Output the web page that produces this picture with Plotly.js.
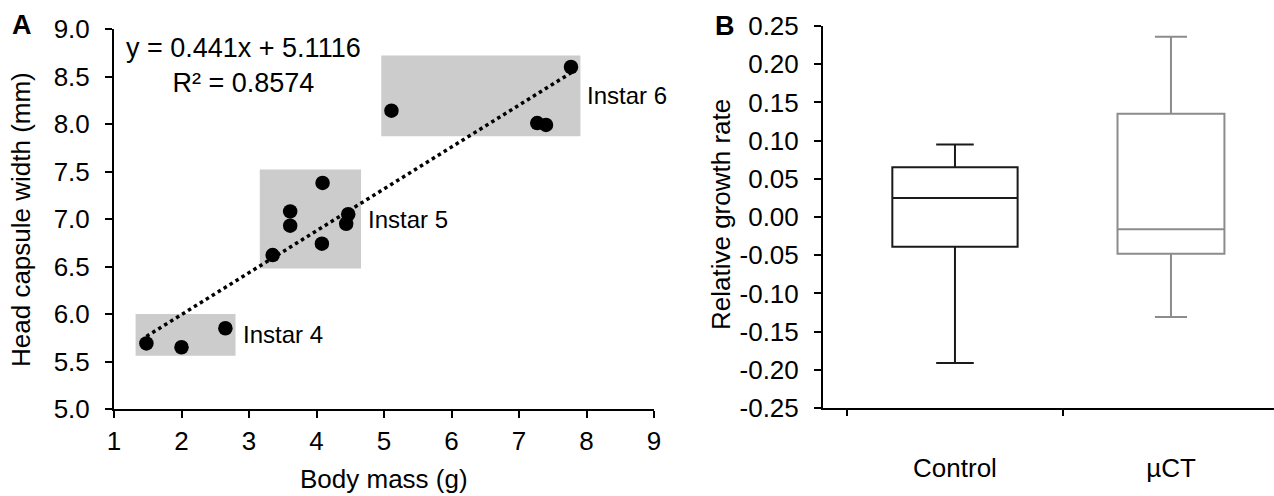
<!DOCTYPE html>
<html>
<head>
<meta charset="utf-8">
<script src="https://cdn.plot.ly/plotly-3.0.1.min.js"></script>
<style>html,body{margin:0;padding:0;background:#fff;}#chart{width:1274px;height:496px;}</style>
</head>
<body>
<div id="chart"></div>
<script>
// ---- Panel A data ----
const bodyMass = [1.48, 2.00, 2.65, 3.35, 3.61, 3.61, 4.08, 4.09, 4.44, 4.47, 5.11, 7.27, 7.40, 7.77];
const headWidth = [5.69, 5.65, 5.85, 6.62, 6.93, 7.08, 6.74, 7.38, 6.95, 7.05, 8.14, 8.01, 7.99, 8.60];
const fitSlope = 0.441;
const fitIntercept = 5.1116;
const fitR2 = 0.8574;
const instarNames = ["Instar 4", "Instar 5", "Instar 6"];
const instarXmin = [1.32, 3.16, 4.96];
const instarXmax = [2.80, 4.66, 7.91];
const instarYmin = [5.56, 6.48, 7.87];
const instarYmax = [6.00, 7.52, 8.72];
const xTicksA = [1, 2, 3, 4, 5, 6, 7, 8, 9];
const yTicksA = [5.0, 5.5, 6.0, 6.5, 7.0, 7.5, 8.0, 8.5, 9.0];

// ---- Panel B data ----
const groups = ["Control", "\u00b5CT"];
const lowerFence = [-0.191, -0.131];
const q1 = [-0.039, -0.048];
const median = [0.025, -0.016];
const q3 = [0.065, 0.135];
const upperFence = [0.095, 0.236];
const yTicksB = [-0.25, -0.20, -0.15, -0.10, -0.05, 0.00, 0.05, 0.10, 0.15, 0.20, 0.25];

const FONT = 'Arial, "Liberation Sans", Helvetica, sans-serif';
const W = 1274, H = 496;
const px = v => v / W;
const py = v => 1 - v / H;

const xFit = [Math.min(...bodyMass), Math.max(...bodyMass)];
const yFit = xFit.map(x => fitSlope * x + fitIntercept);

const boxColors = ["#1a1a1a", "#8c8c8c"];
const boxWidths = [0.58, 0.495];

const traces = [
  {type: 'scatter', mode: 'lines', x: xFit, y: yFit, xaxis: 'x', yaxis: 'y',
   line: {color: '#000', width: 3.5, dash: '3.5px,3.5px'}, hoverinfo: 'skip', showlegend: false},
  {type: 'scatter', mode: 'markers', x: bodyMass, y: headWidth, xaxis: 'x', yaxis: 'y',
   marker: {color: '#000', size: 14.5, line: {width: 0}}, showlegend: false}
];
groups.forEach((g, i) => {
  traces.push({type: 'box', x: [g], q1: [q1[i]], median: [median[i]], q3: [q3[i]],
    lowerfence: [lowerFence[i]], upperfence: [upperFence[i]],
    xaxis: 'x2', yaxis: 'y2', width: boxWidths[i], whiskerwidth: 0.3,
    line: {color: boxColors[i], width: 2}, fillcolor: 'rgba(0,0,0,0)', boxpoints: false,
    showlegend: false});
});

const shapes = instarNames.map((n, i) => ({
  type: 'rect', xref: 'x', yref: 'y', layer: 'below',
  x0: instarXmin[i], x1: instarXmax[i], y0: instarYmin[i], y1: instarYmax[i],
  fillcolor: '#cccccc', line: {width: 0}
}));

const annotations = [];
instarNames.forEach((n, i) => {
  annotations.push({xref: 'x', yref: 'y', x: instarXmax[i], y: (instarYmin[i] + instarYmax[i]) / 2,
    text: n, showarrow: false, xanchor: 'left', yanchor: 'middle', xshift: 5,
    font: {family: FONT, size: 24, color: '#000'}});
});
annotations.push(
  {xref: 'paper', yref: 'paper', x: px(243), y: py(65), text: 'y = ' + fitSlope + 'x + ' + fitIntercept + '<br>R\u00b2 = ' + fitR2,
   showarrow: false, align: 'center', xanchor: 'center', yanchor: 'middle', font: {family: FONT, size: 27, color: '#000'}},
  {xref: 'paper', yref: 'paper', x: px(384), y: py(479), text: 'Body mass (g)', showarrow: false,
   xanchor: 'center', yanchor: 'middle', font: {family: FONT, size: 26, color: '#000'}},
  {xref: 'paper', yref: 'paper', x: px(21), y: py(220), text: 'Head capsule width (mm)', showarrow: false, textangle: -90,
   xanchor: 'center', yanchor: 'middle', font: {family: FONT, size: 26, color: '#000'}},
  {xref: 'paper', yref: 'paper', x: px(721), y: py(215), text: 'Relative growth rate', showarrow: false, textangle: -90,
   xanchor: 'center', yanchor: 'middle', font: {family: FONT, size: 26, color: '#000'}},
  {xref: 'paper', yref: 'paper', x: px(22), y: py(25), text: '<b>A</b>', showarrow: false,
   xanchor: 'center', yanchor: 'middle', font: {family: FONT, size: 27, color: '#000'}},
  {xref: 'paper', yref: 'paper', x: px(725), y: py(26), text: '<b>B</b>', showarrow: false,
   xanchor: 'center', yanchor: 'middle', font: {family: FONT, size: 27, color: '#000'}}
);

const tickFont = {family: FONT, size: 26, color: '#000'};
const axisCommon = {showgrid: false, zeroline: false, showline: true, linecolor: '#000', linewidth: 2,
  ticks: 'outside', ticklen: 7, tickwidth: 2, tickcolor: '#000', tickfont: tickFont, fixedrange: true};

const layout = {
  width: W, height: H,
  margin: {l: 0, r: 0, t: 0, b: 0, pad: 0},
  paper_bgcolor: '#fff', plot_bgcolor: '#fff',
  showlegend: false,
  font: {family: FONT, color: '#000'},
  xaxis: Object.assign({}, axisCommon, {domain: [px(114), px(654)], range: [1, 9],
    tickmode: 'array', tickvals: xTicksA, ticktext: xTicksA.map(String), ticklabelstandoff: 1, anchor: 'y'}),
  yaxis: Object.assign({}, axisCommon, {domain: [1 - 409 / H, 1 - 29 / H], range: [5, 9],
    tickmode: 'array', tickvals: yTicksA, ticktext: yTicksA.map(v => v.toFixed(1)), ticklabelstandoff: 10, anchor: 'x'}),
  xaxis2: Object.assign({}, axisCommon, {domain: [px(823), 1], range: [-0.611, 1.477], type: 'category',
    tickson: 'boundaries', ticklen: 6, ticklabelstandoff: 36, anchor: 'y2'}),
  yaxis2: Object.assign({}, axisCommon, {domain: [1 - 408 / H, 1 - 26 / H], range: [-0.25, 0.25],
    tickmode: 'array', tickvals: yTicksB, ticktext: yTicksB.map(v => v.toFixed(2)), ticklabelstandoff: 10, anchor: 'x2'}),
  shapes: shapes,
  annotations: annotations
};

Plotly.newPlot('chart', traces, layout, {displayModeBar: false, staticPlot: true});
</script>
</body>
</html>
